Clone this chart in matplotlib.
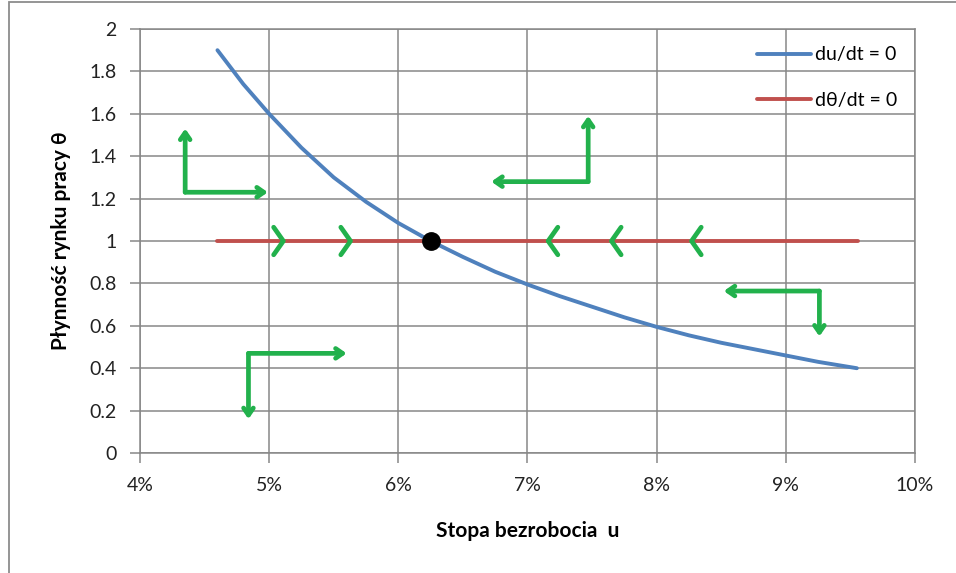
import matplotlib.pyplot as plt
from matplotlib.patches import Rectangle

plt.rcParams['font.family'] = ['Lato', 'DejaVu Sans']

# krzywa du/dt = 0, u w %
u_curve = [4.6, 4.8, 5.0, 5.25, 5.5, 5.75, 6.0, 6.25, 6.5, 6.75, 7.0, 7.25,
           7.5, 7.75, 8.0, 8.25, 8.5, 8.75, 9.0, 9.25, 9.55]
theta_curve = [1.90, 1.74, 1.60, 1.44, 1.30, 1.185, 1.085, 1.00, 0.925, 0.855,
               0.795, 0.74, 0.69, 0.64, 0.595, 0.555, 0.52, 0.49, 0.46, 0.43,
               0.40]

# prosta dθ/dt = 0
u_flat = [4.6, 9.56]
theta_flat = [1.0, 1.0]

# punkt równowagi
u_eq, theta_eq = 6.25, 1.0

# strzałki na prostej θ = 1 (kierunek +1 w prawo, -1 w lewo)
chevron_u = [5.11, 5.63, 7.16, 7.65, 8.27]
chevron_dir = [1, 1, -1, -1, -1]

# strzałki "kątowe": punkt narożny, koniec poziomy, koniec pionowy
corner_u = [4.35, 7.47, 9.26, 4.84]
corner_theta = [1.23, 1.28, 0.764, 0.47]
horiz_end_u = [4.99, 6.72, 8.52, 5.60]
vert_end_theta = [1.53, 1.59, 0.55, 0.16]

x_ticks = [4, 5, 6, 7, 8, 9, 10]
y_ticks = [0, 0.2, 0.4, 0.6, 0.8, 1, 1.2, 1.4, 1.6, 1.8, 2]

green = '#22b14c'
grid_c = '#878787'

fig = plt.figure(figsize=(9.56, 5.73), dpi=100)
ax = fig.add_axes([0.1464, 0.2094, 0.8107, 0.7400])

# ramka wykresu (widoczna tylko z lewej i u góry)
fig.patches.append(Rectangle((9 / 956, -0.1), 1.2, 1 - 1.5 / 573 + 0.1,
                             transform=fig.transFigure, fill=False,
                             edgecolor='#8c8c8c', lw=1.3))

ax.plot(u_curve, theta_curve, color='#4f81bd', lw=2.8, label='du/dt = 0',
        solid_capstyle='round', zorder=3)
ax.plot(u_flat, theta_flat, color='#c0504d', lw=2.8, label='dθ/dt = 0',
        solid_capstyle='round', zorder=3)
ax.plot([u_eq], [theta_eq], 'o', color='black', markersize=12.5, zorder=5)

# szewrony na prostej
dx, dy = 0.075, 0.065
for u0, d in zip(chevron_u, chevron_dir):
    ax.plot([u0 - d * dx, u0, u0 - d * dx], [1 + dy, 1, 1 - dy],
            color=green, lw=3.4, solid_capstyle='round', zorder=4)

# strzałki kątowe
arrow_kw = dict(arrowstyle='->,head_length=0.5,head_width=0.35',
                color=green, lw=3.4, shrinkA=0, shrinkB=0)
for cu, ct, hu, vt in zip(corner_u, corner_theta, horiz_end_u, vert_end_theta):
    ax.annotate('', xy=(hu, ct), xytext=(cu, ct), arrowprops=arrow_kw, zorder=4)
    ax.annotate('', xy=(cu, vt), xytext=(cu, ct), arrowprops=arrow_kw, zorder=4)

ax.set_xlim(4, 10)
ax.set_ylim(0, 2)
ax.set_xticks(x_ticks)
ax.set_xticklabels([f'{t}%' for t in x_ticks])
ax.set_yticks(y_ticks)
ax.set_yticklabels([f'{t:g}' for t in y_ticks])
ax.grid(True, color=grid_c, lw=1.1)
ax.set_axisbelow(True)
for s in ax.spines.values():
    s.set_color(grid_c)
    s.set_linewidth(1.1)
ax.tick_params(colors=grid_c, labelcolor='#222222', labelsize=14,
               length=7, width=1.1)
ax.tick_params(axis='x', pad=10)
ax.tick_params(axis='y', pad=10)

ax.set_xlabel('Stopa bezrobocia  u', fontsize=15, fontweight='bold',
              labelpad=20)
ax.set_ylabel('Płynność rynku pracy θ', fontsize=15, fontweight='bold',
              labelpad=13)

ax.legend(loc='upper right', frameon=False, fontsize=14, handlelength=2.8,
          handletextpad=0.2, labelspacing=1.45, borderaxespad=0.5)

fig.savefig('out.png', dpi=100)
